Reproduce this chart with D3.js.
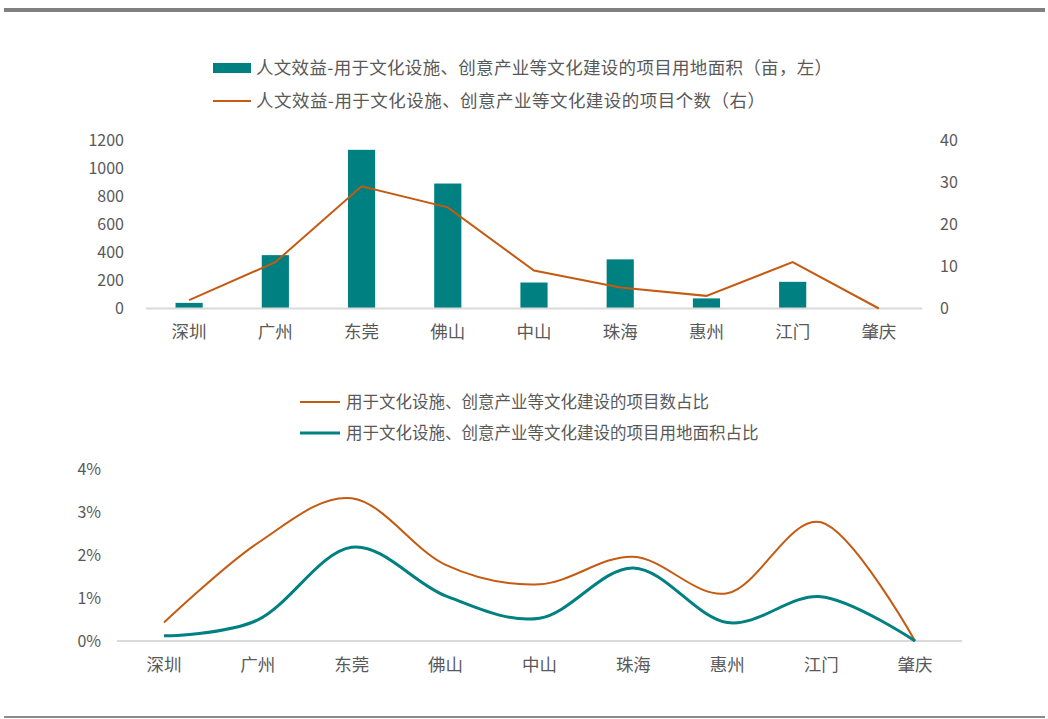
<!DOCTYPE html>
<html><head><meta charset="utf-8">
<script src="https://cdn.jsdelivr.net/npm/d3@7"></script>
<style>
html,body{margin:0;padding:0;background:#fff;}
svg{display:block;font-family:"Noto Sans CJK SC","Noto Sans",sans-serif;}
</style></head>
<body>
<script>
const cities = ["深圳","广州","东莞","佛山","中山","珠海","惠州","江门","肇庆"];
const landArea = [40, 380, 1130, 890, 185, 350, 72, 190, 0];
const projectCount = [2, 11, 29, 24, 9, 5, 3, 11, 0];
const countShare = [0.43, 2.28, 3.32, 1.77, 1.32, 1.96, 1.11, 2.76, 0];
const areaShare = [0.12, 0.49, 2.18, 1.05, 0.53, 1.70, 0.43, 1.03, 0];
const leftTicks = [0, 200, 400, 600, 800, 1000, 1200];
const rightTicks = [0, 10, 20, 30, 40];
const pctTicks = [0, 1, 2, 3, 4];
const legendTop = ["人文效益-用于文化设施、创意产业等文化建设的项目用地面积（亩，左）", "人文效益-用于文化设施、创意产业等文化建设的项目个数（右）"];
const legendBottom = ["用于文化设施、创意产业等文化建设的项目数占比", "用于文化设施、创意产业等文化建设的项目用地面积占比"];

const W = 1048, H = 719;
const teal = "#008080", orange = "#C55A11", txt = "#595959", axisC = "#d9d9d9";
const svg = d3.select("body").append("svg").attr("width", W).attr("height", H);

// frame lines
svg.append("rect").attr("x", 4).attr("y", 8).attr("width", 1041).attr("height", 4).attr("fill", "#808080");
svg.append("rect").attr("x", 4).attr("y", 716).attr("width", 1041).attr("height", 2).attr("fill", "#8c8c8c");

// ---------- top chart ----------
const x1 = d3.scaleBand().domain(cities).range([146, 922]).padding(0);
const yL = d3.scaleLinear().domain([0, 1200]).range([308.5, 140]);
const yR = d3.scaleLinear().domain([0, 40]).range([308.5, 140]);

// legend
const lg = svg.append("g");
lg.append("rect").attr("x", 213).attr("y", 63).attr("width", 38).attr("height", 10).attr("fill", teal);
lg.append("text").attr("x", 256).attr("y", 68).attr("dy", "0.35em").attr("font-size", 17.5).attr("fill", txt)
  .attr("textLength", 576).attr("lengthAdjust", "spacing").text(legendTop[0]);
lg.append("line").attr("x1", 213).attr("x2", 251).attr("y1", 101).attr("y2", 101).attr("stroke", orange).attr("stroke-width", 2);
lg.append("text").attr("x", 256).attr("y", 101).attr("dy", "0.35em").attr("font-size", 17.5).attr("fill", txt)
  .attr("textLength", 509).attr("lengthAdjust", "spacing").text(legendTop[1]);

// left axis labels
svg.append("g").selectAll("text").data(leftTicks).join("text")
  .attr("x", 124).attr("y", d => yL(d)).attr("dy", "0.35em").attr("text-anchor", "end")
  .attr("font-size", 16).attr("fill", txt).text(d => d);
// right axis labels
svg.append("g").selectAll("text").data(rightTicks).join("text")
  .attr("x", 940).attr("y", d => yR(d)).attr("dy", "0.35em").attr("text-anchor", "start")
  .attr("font-size", 16).attr("fill", txt).text(d => d);

// bars
const bw = x1.bandwidth() * 0.315;
svg.append("g").selectAll("rect").data(cities).join("rect")
  .attr("x", (d) => x1(d) + x1.bandwidth() / 2 - bw / 2)
  .attr("y", (d, i) => yL(landArea[i]))
  .attr("width", bw)
  .attr("height", (d, i) => yL(0) - yL(landArea[i]))
  .attr("fill", teal);

// axis line
svg.append("line").attr("x1", 146).attr("x2", 922).attr("y1", yL(0)).attr("y2", yL(0)).attr("stroke", axisC).attr("stroke-width", 2);

// line
svg.append("path").datum(projectCount)
  .attr("d", d3.line().x((d, i) => x1(cities[i]) + x1.bandwidth() / 2).y(d => yR(d)))
  .attr("fill", "none").attr("stroke", orange).attr("stroke-width", 2);

// category labels
svg.append("g").selectAll("text").data(cities).join("text")
  .attr("x", d => x1(d) + x1.bandwidth() / 2).attr("y", 332).attr("dy", "0.35em")
  .attr("text-anchor", "middle").attr("font-size", 17.5).attr("fill", txt).text(d => d);

// ---------- bottom chart ----------
const x2 = d3.scaleBand().domain(cities).range([117, 962]).padding(0);
const yP = d3.scaleLinear().domain([0, 4]).range([641, 469]);

const lg2 = svg.append("g");
lg2.append("line").attr("x1", 300).attr("x2", 340).attr("y1", 402).attr("y2", 402).attr("stroke", orange).attr("stroke-width", 2);
lg2.append("text").attr("x", 346).attr("y", 402).attr("dy", "0.35em").attr("font-size", 16.5).attr("fill", txt).text(legendBottom[0]);
lg2.append("line").attr("x1", 300).attr("x2", 340).attr("y1", 433).attr("y2", 433).attr("stroke", teal).attr("stroke-width", 3);
lg2.append("text").attr("x", 346).attr("y", 433).attr("dy", "0.35em").attr("font-size", 16.5).attr("fill", txt).text(legendBottom[1]);

svg.append("g").selectAll("text").data(pctTicks).join("text")
  .attr("x", 101).attr("y", d => yP(d)).attr("dy", "0.35em").attr("text-anchor", "end")
  .attr("font-size", 16).attr("fill", txt).text(d => d + "%");

svg.append("line").attr("x1", 117).attr("x2", 962).attr("y1", yP(0)).attr("y2", yP(0)).attr("stroke", axisC).attr("stroke-width", 2);

const smooth = d3.line().curve(d3.curveCatmullRom.alpha(0))
  .x((d, i) => x2(cities[i]) + x2.bandwidth() / 2).y(d => yP(d));
svg.append("path").datum(countShare).attr("d", smooth)
  .attr("fill", "none").attr("stroke", orange).attr("stroke-width", 2);
svg.append("path").datum(areaShare).attr("d", smooth)
  .attr("fill", "none").attr("stroke", teal).attr("stroke-width", 3);

svg.append("g").selectAll("text").data(cities).join("text")
  .attr("x", d => x2(d) + x2.bandwidth() / 2).attr("y", 665).attr("dy", "0.35em")
  .attr("text-anchor", "middle").attr("font-size", 17.5).attr("fill", txt).text(d => d);
</script>
</body></html>
